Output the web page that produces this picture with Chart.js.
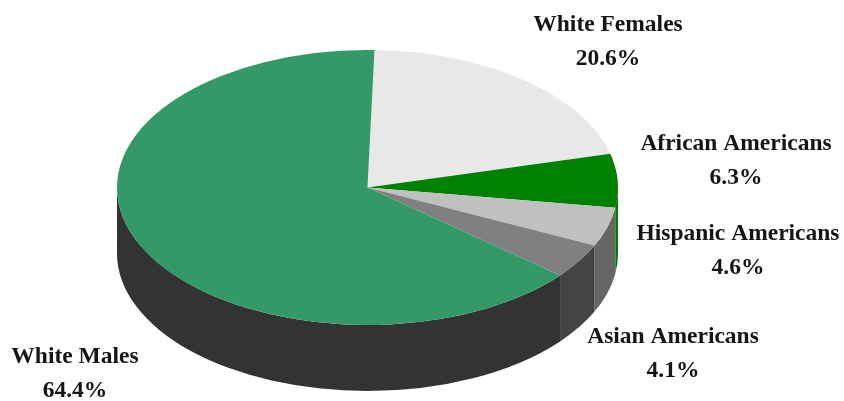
<!DOCTYPE html>
<html>
<head>
<meta charset="utf-8">
<title>Workforce composition</title>
<script src="https://cdn.jsdelivr.net/npm/chart.js@4.4.1/dist/chart.umd.min.js"></script>
<style>
    html, body { margin: 0; padding: 0; background: #ffffff; }
    #wrap { width: 844px; height: 401px; position: relative; }
</style>
</head>
<body>
<div id="wrap"><canvas id="pieChart"></canvas></div>
<script>
/* slices go clockwise from 12 o'clock */
const GROUPS = ['White Females', 'African Americans', 'Hispanic Americans', 'Asian Americans', 'White Males'];
const SHARES = [20.6, 6.3, 4.6, 4.1, 64.4];

const TOP_COLORS = ['#e8e8e8', '#008000', '#c0c0c0', '#808080', '#339966'];
const SIDE_COLORS = ['#bdbdbd', '#007800', '#666666', '#444444', '#333333'];
const DEPTH = 66;

// label anchors: centre x, baseline of first line
const LABEL_POS = [[608, 31], [736, 150], [738, 240], [673, 343], [75, 363]];
const LINE_GAP = 34;

const tiltPlugin = {
    id: 'tilt',
    beforeDatasetsDraw(chart) {
        const ctx = chart.ctx;
        const area = chart.chartArea;
        const arcs = chart.getDatasetMeta(0).data;
        const cx = arcs[0].x;
        const cy = arcs[0].y;
        const sx = area.width / area.height;

        ctx.save();
        ctx.translate(cx, cy);
        ctx.scale(sx, 1);
        ctx.translate(-cx, -cy);

        // side walls, only the front half is visible
        arcs.forEach((arc, i) => {
            const from = Math.max(arc.startAngle, 0);
            const to = Math.min(arc.endAngle, Math.PI);
            if (to <= from) return;
            const r = arc.outerRadius;
            ctx.beginPath();
            ctx.arc(cx, cy, r, from, to);
            ctx.arc(cx, cy + DEPTH, r, to, from, true);
            ctx.closePath();
            ctx.fillStyle = SIDE_COLORS[i];
            ctx.fill();
        });
    },
    afterDatasetsDraw(chart) {
        chart.ctx.restore();
    },
    afterDraw(chart) {
        const ctx = chart.ctx;
        ctx.save();
        ctx.fillStyle = '#151515';
        ctx.font = 'bold 23.5px "Liberation Serif", "Times New Roman", serif';
        ctx.textAlign = 'center';
        ctx.textBaseline = 'alphabetic';
        GROUPS.forEach((name, i) => {
            const [x, y] = LABEL_POS[i];
            ctx.fillText(name, x, y);
            ctx.fillText(SHARES[i].toFixed(1) + '%', x, y + LINE_GAP);
        });
        ctx.restore();
    }
};

new Chart(document.getElementById('pieChart').getContext('2d'), {
    type: 'pie',
    data: {
        labels: GROUPS,
        datasets: [{
            data: SHARES,
            backgroundColor: TOP_COLORS,
            borderWidth: 0,
            clip: false
        }]
    },
    options: {
        responsive: true,
        maintainAspectRatio: false,
        animation: false,
        events: [],
        rotation: 1.6,
        layout: {
            padding: { left: 117, right: 226, top: 50, bottom: 76 }
        },
        plugins: {
            legend: { display: false },
            tooltip: { enabled: false }
        }
    },
    plugins: [tiltPlugin]
});
</script>
</body>
</html>
